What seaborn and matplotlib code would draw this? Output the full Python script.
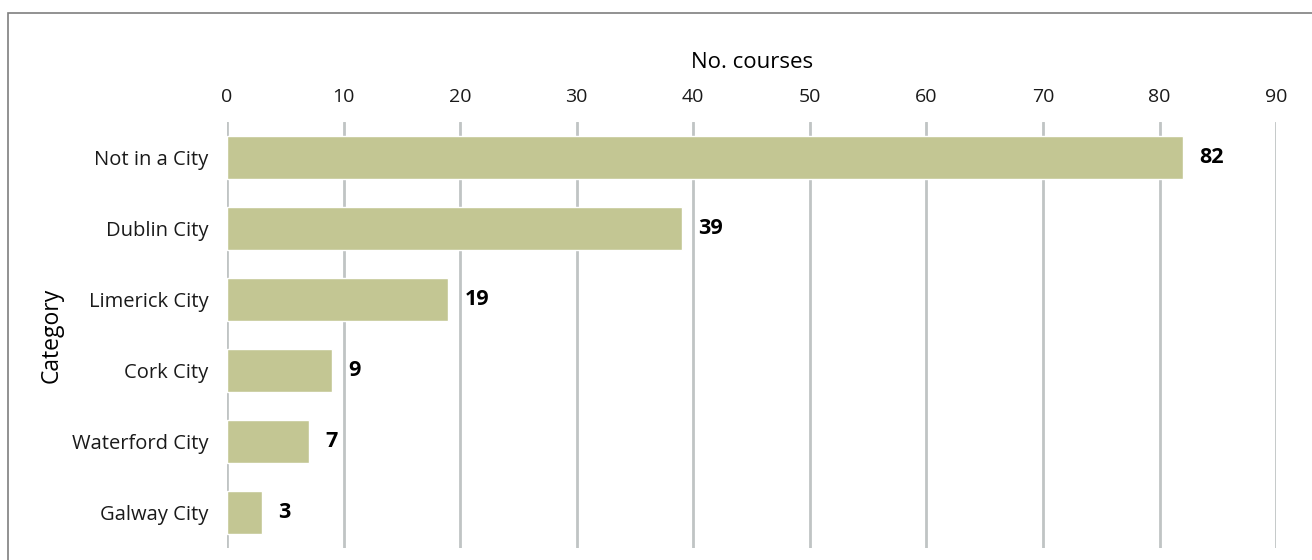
import matplotlib
matplotlib.use("Agg")
import matplotlib.pyplot as plt
import seaborn as sns
import pandas as pd
from matplotlib.patches import Rectangle

categories = ["Not in a City", "Dublin City", "Limerick City", "Cork City", "Waterford City", "Galway City"]
courses = [82, 39, 19, 9, 7, 3]
x_ticks = [0, 10, 20, 30, 40, 50, 60, 70, 80, 90]

df = pd.DataFrame({"Category": categories, "No. courses": courses})

sns.set_theme(style="white")
plt.rcParams["font.family"] = ["Open Sans", "DejaVu Sans"]

fig = plt.figure(figsize=(13.12, 5.6), dpi=100)
ax = fig.add_axes([0.173, 0.0214, 0.7997, 0.7607])

sns.barplot(data=df, x="No. courses", y="Category", order=categories,
            color="#C3C693", saturation=1, width=0.6, ax=ax, zorder=3)

ax.set_xlim(0, 90)
ax.set_ylim(len(categories) - 0.5, -0.5)
ax.set_xticks(x_ticks)
ax.xaxis.tick_top()
ax.xaxis.set_label_position("top")
ax.tick_params(axis="y", length=0, labelsize=14.5, colors="#1a1a1a", pad=13.5)
ax.tick_params(axis="x", length=0, labelsize=14, colors="#1a1a1a", pad=11.7)
ax.set_xlabel("No. courses", fontsize=16, color="#000000", labelpad=14)
ax.set_ylabel("Category", fontsize=16.5, color="#000000", labelpad=6)

ax.grid(axis="x", color="#C0C4C4", linewidth=2, zorder=0)
ax.grid(axis="y", visible=False)
for s in ax.spines.values():
    s.set_visible(False)

for i, v in enumerate(courses):
    ax.text(v + 1.4, i, str(v), va="center", ha="left",
            fontsize=15.5, fontweight="bold", color="#000000", zorder=4)

# outer frame (top and left edges visible)
fig.patches.append(Rectangle((8 / 1312, -0.1), 1.2, 1 - 13 / 560 + 0.1,
                             transform=fig.transFigure, fill=False,
                             edgecolor="#7f7f7f", linewidth=1.2))

fig.savefig("out.png", dpi=100)
